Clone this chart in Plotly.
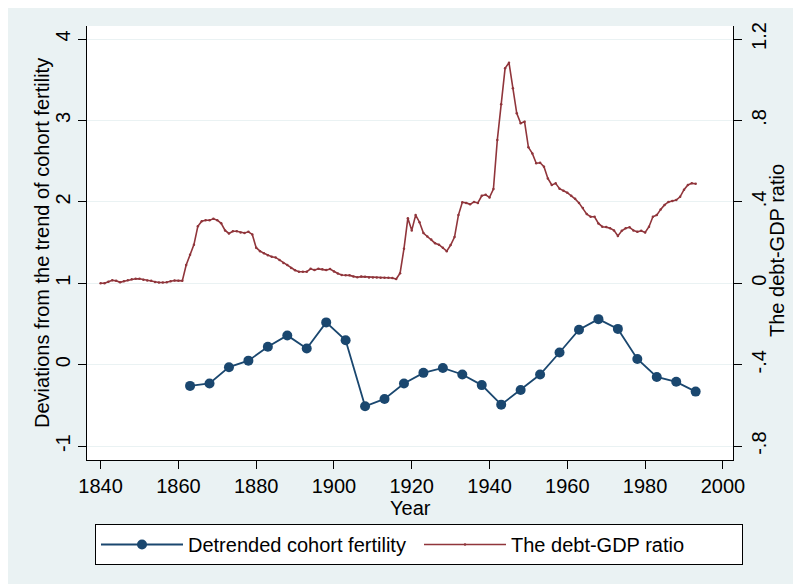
import plotly.graph_objects as go

# Detrended cohort fertility (5-year cohorts)
fert_years = [1863, 1868, 1873, 1878, 1883, 1888, 1893, 1898, 1903, 1908, 1913,
              1918, 1923, 1928, 1933, 1938, 1943, 1948, 1953, 1958, 1963, 1968,
              1973, 1978, 1983, 1988, 1993]
fert_values = [-0.26, -0.23, -0.03, 0.05, 0.22, 0.36, 0.20, 0.52, 0.30, -0.51, -0.42,
               -0.23, -0.10, -0.04, -0.12, -0.25, -0.49, -0.31, -0.12, 0.15, 0.43, 0.56,
               0.44, 0.07, -0.15, -0.21, -0.33]

# Debt-GDP ratio (annual)
debt_years = list(range(1840, 1994))
debt_values = [
    0.000, 0.000, 0.008, 0.015, 0.012, 0.005, 0.010, 0.015, 0.020, 0.022,  # 1840s
    0.022, 0.018, 0.014, 0.012, 0.006, 0.004, 0.004, 0.005, 0.010, 0.014,  # 1850s
    0.013, 0.012, 0.090, 0.140, 0.190, 0.280, 0.305, 0.310, 0.310, 0.317,  # 1860s
    0.310, 0.295, 0.260, 0.245, 0.256, 0.256, 0.250, 0.247, 0.253, 0.240,  # 1870s
    0.175, 0.158, 0.148, 0.138, 0.130, 0.127, 0.115, 0.100, 0.090, 0.075,  # 1880s
    0.064, 0.057, 0.057, 0.057, 0.071, 0.065, 0.071, 0.069, 0.065, 0.070,  # 1890s
    0.058, 0.048, 0.041, 0.040, 0.039, 0.034, 0.030, 0.033, 0.032, 0.029,  # 1900s
    0.028, 0.028, 0.027, 0.027, 0.027, 0.026, 0.021, 0.050, 0.170, 0.320,  # 1910s
    0.260, 0.335, 0.300, 0.247, 0.230, 0.215, 0.197, 0.190, 0.175, 0.158,  # 1920s
    0.188, 0.227, 0.335, 0.398, 0.395, 0.388, 0.400, 0.395, 0.430, 0.435,  # 1930s
    0.422, 0.463, 0.704, 0.880, 1.056, 1.084, 0.958, 0.835, 0.786, 0.794,  # 1940s
    0.668, 0.638, 0.590, 0.592, 0.573, 0.515, 0.483, 0.491, 0.465, 0.455,  # 1950s
    0.445, 0.430, 0.415, 0.395, 0.370, 0.340, 0.327, 0.327, 0.294, 0.278,  # 1960s
    0.276, 0.270, 0.260, 0.233, 0.258, 0.270, 0.275, 0.260, 0.253, 0.258,  # 1970s
    0.250, 0.278, 0.327, 0.335, 0.363, 0.385, 0.400, 0.404, 0.409, 0.425,  # 1980s
    0.460, 0.483, 0.491, 0.489,                                            # 1990s
]

x_ticks = [1840, 1860, 1880, 1900, 1920, 1940, 1960, 1980, 2000]
left_ticks = [-1, 0, 1, 2, 3, 4]
left_ticktext = ["-1", "0", "1", "2", "3", "4"]
right_ticks = [-0.8, -0.4, 0, 0.4, 0.8, 1.2]
right_ticktext = ["-.8", "-.4", "0", ".4", ".8", "1.2"]

BLUE = "#1a476f"
RED = "#90353b"
BG = "#eaf2f3"
FONT = "Liberation Sans, Arial, sans-serif"

# page has an 8px body margin; plot area in page pixels: x 87..733, y 26..460
OFF = 8
W, H = 801, 584
ML, MT = 87 - OFF, 26 - OFF
PW, PH = 733 - 87, 460 - 26
MR, MB = W - ML - PW, H - MT - PH


def px(xp):
    return (xp - OFF - ML) / PW


def py(yp):
    return (MT + PH - (yp - OFF)) / PH


fig = go.Figure()
fig.add_trace(go.Scatter(
    x=fert_years, y=fert_values, name="Detrended cohort fertility",
    mode="lines+markers", line=dict(color=BLUE, width=1.8),
    marker=dict(color=BLUE, size=10, symbol="circle"), yaxis="y"))
fig.add_trace(go.Scatter(
    x=debt_years, y=debt_values, name="The debt-GDP ratio",
    mode="lines+markers", line=dict(color=RED, width=1.6),
    marker=dict(color=RED, size=2.5), yaxis="y2"))

axis_common = dict(showline=True, linecolor="black", linewidth=1, ticks="outside",
                   ticklen=8, tickcolor="black", tickwidth=1, automargin=False,
                   tickfont=dict(family=FONT, size=20, color="black"), zeroline=False)

fig.update_layout(
    width=W, height=H,
    margin=dict(l=ML, r=MR, t=MT, b=MB, pad=0, autoexpand=False),
    paper_bgcolor=BG, plot_bgcolor="white",
    font=dict(family=FONT, size=20, color="black"),
    xaxis=dict(range=[1836.5, 2002.6], tickvals=x_ticks, showgrid=False, **axis_common),
    yaxis=dict(range=[-1.17, 4.16], tickvals=left_ticks, ticktext=left_ticktext,
               tickangle=-90, showgrid=True, gridcolor=BG, gridwidth=1, **axis_common),
    yaxis2=dict(range=[-0.868, 1.264], tickvals=right_ticks, ticktext=right_ticktext,
                tickangle=-90, overlaying="y", side="right", showgrid=False, **axis_common),
    legend=dict(orientation="h", x=px(743), xanchor="right", y=py(524),
                yanchor="top", bgcolor="white", bordercolor="black", borderwidth=1,
                font=dict(family=FONT, size=20, color="black"),
                itemwidth=82, entrywidth=226, entrywidthmode="pixels"),
    annotations=[
        dict(text="Year", xref="paper", yref="paper", x=px(410),
             y=py(508), xanchor="center", yanchor="middle", showarrow=False,
             font=dict(family=FONT, size=20)),
        dict(text="Deviations from the trend of cohort fertility", xref="paper", yref="paper",
             x=px(42), y=py(243), textangle=-90, xanchor="center",
             yanchor="middle", showarrow=False, font=dict(family=FONT, size=20)),
        dict(text="The debt-GDP ratio", xref="paper", yref="paper",
             x=px(777), y=py(250), textangle=-90, xanchor="center",
             yanchor="middle", showarrow=False, font=dict(family=FONT, size=20)),
    ],
    showlegend=True,
)

fig.write_html("out.html")
